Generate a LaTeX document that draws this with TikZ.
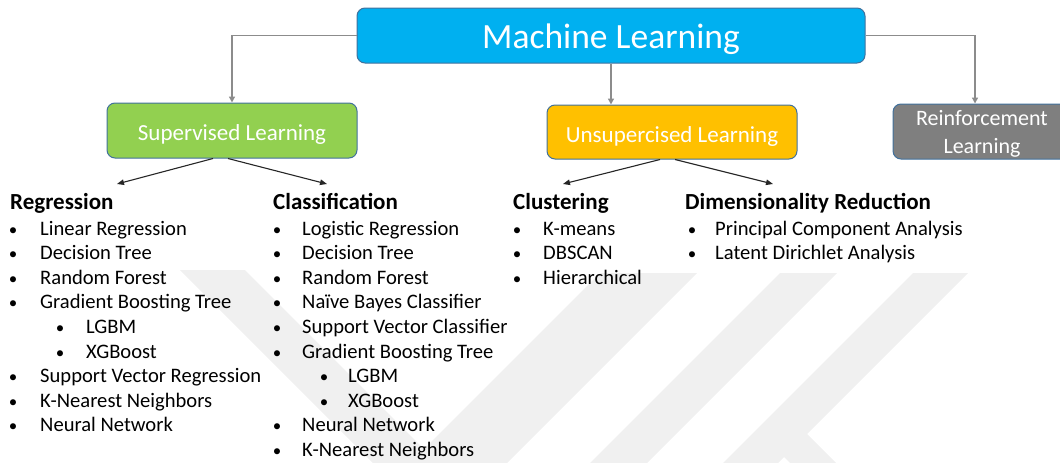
\documentclass[tikz,border=0pt]{standalone}
\usepackage{fontspec}
\setmainfont{Carlito}
\usetikzlibrary{arrows.meta}
\definecolor{mlblue}{HTML}{00B0F0}
\definecolor{supgreen}{HTML}{92D050}
\definecolor{unsorange}{HTML}{FFC000}
\definecolor{reingray}{HTML}{7F7F7F}
\definecolor{boxborder}{HTML}{41719C}
\definecolor{linegray}{HTML}{8C8C8C}
\definecolor{wmark}{HTML}{F0F0F0}
\newcommand\bitem[5]{\node[bul] (#1b) at (#2,#4) {•}; \node[itm] (#1) at (#3,#4) {#5};}
\begin{document}
\begin{tikzpicture}[x=1pt,y=-1pt,
  wm/.style={fill=wmark, draw=none},
  box/.style={draw=boxborder, line width=1pt, rounded corners=8pt, text=white, inner sep=0pt, align=center},
  gline/.style={draw=linegray, line width=1.4pt, -{Triangle[length=6pt,width=6pt]}},
  bline/.style={draw=black!85, line width=1.1pt, -{Triangle[length=7pt,width=5.5pt]}},
  head/.style={anchor=base west, inner sep=0pt, font=\fontsize{23}{26}\selectfont\bfseries},
  itm/.style={anchor=base west, inner sep=0pt, font=\fontsize{20.6}{24}\selectfont},
  bul/.style={anchor=base, inner sep=0pt, font=\fontsize{17}{20}\selectfont},
  btxt/.style={anchor=base, inner sep=0pt, text=white, font=\fontsize{22}{26}\selectfont}]
\useasboundingbox (0,0) rectangle (1060,463);
% watermark
\fill[wm] (180,270) -- (245,270) -- (438,463) -- (373,463) -- cycle;
\fill[wm] (600,273) -- (697,273) -- (507,463) -- (410,463) -- cycle;
\fill[wm] (780,273) -- (837,273) -- (647,463) -- (590,463) -- cycle;
\fill[wm] (913,273) -- (968,273) -- (778,463) -- (723,463) -- cycle;
\fill[wm] (800,427) -- (836,463) -- (790,463) -- (778,451) -- cycle;
% boxes
\node[box, fill=mlblue, minimum width=508pt, minimum height=55pt, text height=26pt, text depth=0pt,
      font=\fontsize{35.5}{40}\selectfont] (ml) at (611,35.5) {Machine Learning};
\node[box, fill=supgreen, minimum width=250pt, minimum height=55pt, text height=19pt, text depth=0pt,
      font=\fontsize{23}{27}\selectfont] (sup) at (232,130.5) {Supervised Learning};
\node[box, fill=unsorange, minimum width=250pt, minimum height=54pt, text height=20pt, text depth=0pt,
      font=\fontsize{23}{27}\selectfont] (uns) at (672,132) {Unsupercised Learning};
\node[box, fill=reingray, minimum width=178pt, minimum height=55pt] (rein) at (982,131.5) {};
\node[btxt] (rein1) at (982,125.7) {Reinforcement};
\node[btxt] (rein2) at (982,153.3) {Learning};
% gray connectors
\draw[gline] (ml.west) -| (sup.north);
\draw[gline] (ml.east) -| ([xshift=-7pt]rein.north);
\draw[gline] (ml.south) -- (ml.south |- uns.north);
% black connectors
\coordinate (regtip) at (117,184);
\coordinate (clstip) at (327,184);
\coordinate (clutip) at (563,184);
\coordinate (dimtip) at (773,184);
\draw[bline] ([xshift=-19pt]sup.south) -- (regtip);
\draw[bline] ([xshift=-4pt]sup.south) -- (clstip);
\draw[bline] ([xshift=-12pt]uns.south) -- (clutip);
\draw[bline] ([xshift=3pt]uns.south) -- (dimtip);
% Regression
\node[head] (reg) at (10,209) {Regression};
\bitem{r1}{13}{40}{235}{Linear Regression}
\bitem{r2}{13}{40}{259.6}{Decision Tree}
\bitem{r3}{13}{40}{284.2}{Random Forest}
\bitem{r4}{13}{40}{308.8}{Gradient Boosting Tree}
\bitem{r5}{60}{86}{333.4}{LGBM}
\bitem{r6}{60}{86}{358}{XGBoost}
\bitem{r7}{13}{40}{382.6}{Support Vector Regression}
\bitem{r8}{13}{40}{407.2}{K-Nearest Neighbors}
\bitem{r9}{13}{40}{431.8}{Neural Network}
% Classification
\node[head] (cls) at (273,209) {Classification};
\bitem{c1}{277}{302}{235}{Logistic Regression}
\bitem{c2}{277}{302}{259.6}{Decision Tree}
\bitem{c3}{277}{302}{284.2}{Random Forest}
\bitem{c4}{277}{302}{308.8}{Naïve Bayes Classifier}
\bitem{c5}{277}{302}{333.4}{Support Vector Classifier}
\bitem{c6}{277}{302}{358}{Gradient Boosting Tree}
\bitem{c7}{324}{348}{382.6}{LGBM}
\bitem{c8}{324}{348}{407.2}{XGBoost}
\bitem{c9}{277}{302}{431.8}{Neural Network}
\bitem{c10}{277}{302}{456.4}{K-Nearest Neighbors}
% Clustering
\node[head] (clu) at (513,209) {Clustering};
\bitem{k1}{517}{543}{235}{K-means}
\bitem{k2}{517}{543}{259.6}{DBSCAN}
\bitem{k3}{517}{543}{284.2}{Hierarchical}
% Dimensionality Reduction
\node[head] (dim) at (685,209) {Dimensionality Reduction};
\bitem{d1}{692}{715}{235}{Principal Component Analysis}
\bitem{d2}{692}{715}{259.6}{Latent Dirichlet Analysis}
\end{tikzpicture}
\end{document}
